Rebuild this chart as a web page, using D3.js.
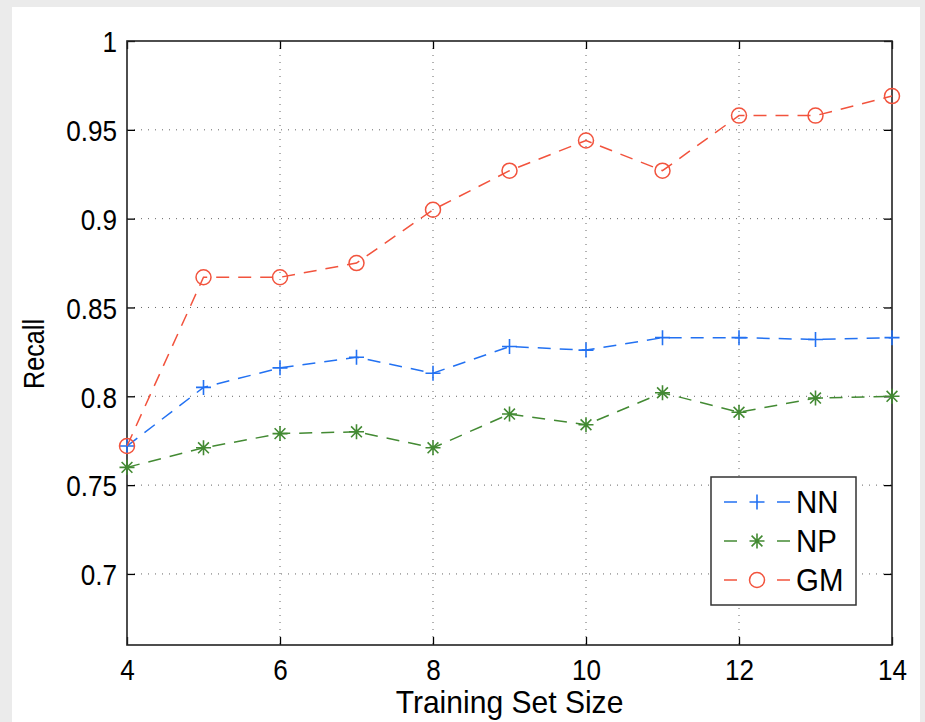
<!DOCTYPE html>
<html>
<head>
<meta charset="utf-8">
<script src="https://cdn.jsdelivr.net/npm/d3@7/dist/d3.min.js"></script>
<style>
  html, body { margin: 0; padding: 0; background: #ebebeb; }
  svg { display: block; }
  text { font-family: "Liberation Sans", Arial, Helvetica, sans-serif; fill: #000; }
</style>
</head>
<body>
<svg id="chart" width="925" height="722"></svg>
<script>
// ---- data ----
const trainingSizes = [4, 5, 6, 7, 8, 9, 10, 11, 12, 13, 14];
const nnRecall = [0.772, 0.805, 0.816, 0.822, 0.813, 0.828, 0.826, 0.833, 0.833, 0.832, 0.833];
const npRecall = [0.760, 0.771, 0.779, 0.780, 0.771, 0.790, 0.784, 0.802, 0.791, 0.799, 0.800];
const gmRecall = [0.772, 0.867, 0.867, 0.875, 0.905, 0.927, 0.944, 0.927, 0.958, 0.958, 0.969];
const xTicks = [4, 6, 8, 10, 12, 14];
const yTicks = [0.7, 0.75, 0.8, 0.85, 0.9, 0.95, 1];
const seriesNames = ["NN", "NP", "GM"];
const seriesColors = ["#2271f2", "#438a33", "#f2533d"];
const seriesMarkers = ["plus", "star", "circle"];
const xLabel = "Training Set Size";
const yLabel = "Recall";

(function () {
const svg = d3.select("#chart");
// white page
svg.append("rect").attr("x", 12).attr("y", 7).attr("width", 908).attr("height", 715).attr("fill", "#fff");

const pL = 127, pR = 892, pT = 41, pB = 645;
const x = d3.scaleLinear().domain([4, 14]).range([pL, pR]);
const y = d3.scaleLinear().domain([0.66, 1]).range([pB, pT]);
const squeeze = 0.87;

// grid
const grid = svg.append("g");
xTicks.filter(t => t !== 4 && t !== 14).forEach(t => {
  grid.append("line").attr("x1", x(t)).attr("x2", x(t)).attr("y1", pT).attr("y2", pB)
    .attr("stroke", "#666").attr("stroke-width", 1).attr("stroke-dasharray", "1,6");
});
yTicks.filter(t => t !== 1).forEach(t => {
  grid.append("line").attr("x1", pL).attr("x2", pR).attr("y1", y(t)).attr("y2", y(t))
    .attr("stroke", "#666").attr("stroke-width", 1).attr("stroke-dasharray", "1,6");
});

// axes
const fmtY = d => (d === 1 ? "1" : String(+d.toFixed(2)));
const gx = svg.append("g").attr("transform", `translate(0,${pB})`)
  .call(d3.axisBottom(x).tickValues(xTicks).tickSizeInner(-8).tickSizeOuter(0).tickPadding(14));
const gxTop = svg.append("g").attr("transform", `translate(0,${pT})`)
  .call(d3.axisTop(x).tickValues(xTicks).tickSizeInner(-8).tickSizeOuter(0).tickFormat(""));
const gy = svg.append("g").attr("transform", `translate(${pL},0)`)
  .call(d3.axisLeft(y).tickValues(yTicks).tickSizeInner(-8).tickSizeOuter(0).tickPadding(10).tickFormat(fmtY));
const gyR = svg.append("g").attr("transform", `translate(${pR},0)`)
  .call(d3.axisRight(y).tickValues(yTicks).tickSizeInner(-8).tickSizeOuter(0).tickFormat(""));
[gx, gxTop, gy, gyR].forEach(g => {
  g.select(".domain").remove();
  g.selectAll(".tick line").attr("stroke", "#000").attr("stroke-width", 1.3);
  g.selectAll("text").style("font-size", "30px").attr("fill", "#000");
});
gx.selectAll("text").attr("transform", `scale(${squeeze},1)`);
gy.selectAll("text").attr("dy", "0.36em").attr("x", 0)
  .attr("transform", `translate(-10,0) scale(${squeeze},1)`);

// box
svg.append("rect").attr("x", pL).attr("y", pT).attr("width", pR - pL).attr("height", pB - pT)
  .attr("fill", "none").attr("stroke", "#222").attr("stroke-width", 1.6);

// axis labels
svg.append("text").attr("transform", `translate(${(pL + pR) / 2},713) scale(0.97,1)`)
  .attr("text-anchor", "middle").style("font-size", "31px").text(xLabel);
svg.append("text").attr("transform", `translate(44,${(pT + pB) / 2 + 11}) rotate(-90) scale(0.84,1)`)
  .attr("text-anchor", "middle").style("font-size", "30px").text(yLabel);

// marker drawing
function drawMarker(g, type, cx, cy, color) {
  if (type === "plus") {
    const s = 7.5;
    g.append("path").attr("d", `M${cx - s},${cy}H${cx + s}M${cx},${cy - s}V${cy + s}`)
      .attr("stroke", color).attr("stroke-width", 1.6).attr("fill", "none");
  } else if (type === "star") {
    const s = 7.5, d = s * 0.72;
    g.append("path").attr("d", `M${cx - s},${cy}H${cx + s}M${cx},${cy - s}V${cy + s}M${cx - d},${cy - d}L${cx + d},${cy + d}M${cx - d},${cy + d}L${cx + d},${cy - d}`)
      .attr("stroke", color).attr("stroke-width", 1.6).attr("fill", "none");
  } else {
    g.append("circle").attr("cx", cx).attr("cy", cy).attr("r", 7.5)
      .attr("stroke", color).attr("stroke-width", 1.5).attr("fill", "none");
  }
}

const allSeries = [nnRecall, npRecall, gmRecall];
const line = d3.line().x((d, i) => x(trainingSizes[i])).y(d => y(d));
allSeries.forEach((vals, si) => {
  const g = svg.append("g");
  g.append("path").datum(vals).attr("d", line).attr("fill", "none")
    .attr("stroke", seriesColors[si]).attr("stroke-width", 1.5).attr("stroke-dasharray", "13,9");
  vals.forEach((v, i) => drawMarker(g, seriesMarkers[si], x(trainingSizes[i]), y(v), seriesColors[si]));
});

// legend
const lg = svg.append("g");
lg.append("rect").attr("x", 711).attr("y", 477).attr("width", 145).attr("height", 128)
  .attr("fill", "#fff").attr("stroke", "#333").attr("stroke-width", 1.5);
seriesNames.forEach((name, i) => {
  const cy = 502 + i * 39;
  lg.append("line").attr("x1", 724).attr("x2", 737).attr("y1", cy).attr("y2", cy)
    .attr("stroke", seriesColors[i]).attr("stroke-width", 1.5);
  lg.append("line").attr("x1", 777).attr("x2", 790).attr("y1", cy).attr("y2", cy)
    .attr("stroke", seriesColors[i]).attr("stroke-width", 1.5);
  drawMarker(lg, seriesMarkers[i], 757, cy, seriesColors[i]);
  lg.append("text").attr("transform", `translate(796,${cy + 11}) scale(0.95,1)`)
    .style("font-size", "31px").text(name);
});
})();
</script>
</body>
</html>
